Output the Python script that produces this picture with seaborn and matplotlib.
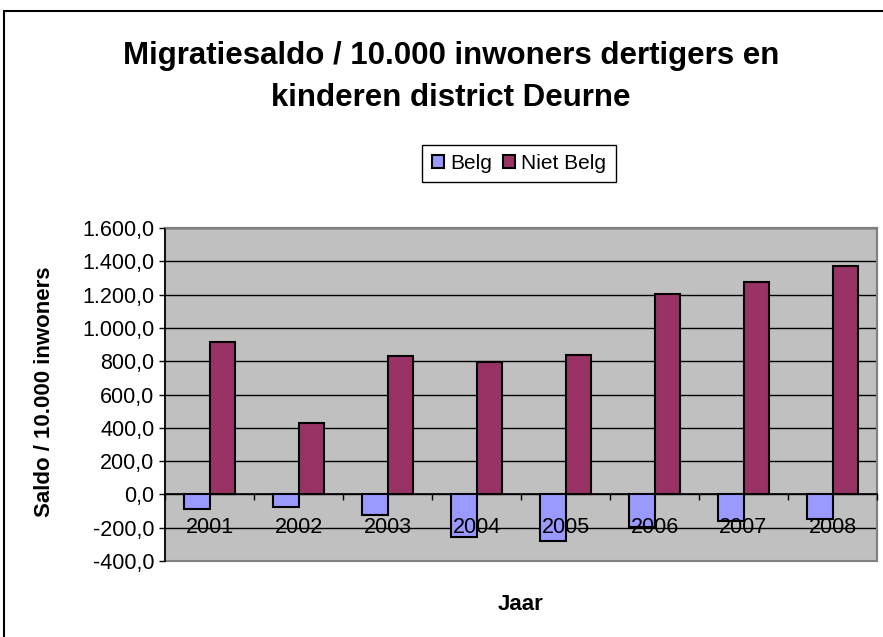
import pandas as pd
import seaborn as sns
import matplotlib.pyplot as plt
from matplotlib.ticker import FuncFormatter, FixedLocator
from matplotlib.patches import Rectangle

plt.rcParams['font.family'] = ['Liberation Sans', 'DejaVu Sans']

# values
years = ["2001", "2002", "2003", "2004", "2005", "2006", "2007", "2008"]
belg = [-85, -73, -121, -256, -279, -194, -158, -145]
niet_belg = [914, 428, 833, 797, 835, 1206, 1277, 1371]

df = pd.DataFrame({
    "jaar": years * 2,
    "saldo": belg + niet_belg,
    "groep": ["Belg"] * len(years) + ["Niet Belg"] * len(years),
})

fig = plt.figure(figsize=(8.83, 6.37), dpi=100)
ax = fig.add_axes([165 / 883, 76 / 637, 712 / 883, 333 / 637])

sns.barplot(data=df, x="jaar", y="saldo", hue="groep",
            palette={"Belg": "#9999FF", "Niet Belg": "#993366"},
            saturation=1, width=0.58, edgecolor="black", linewidth=1.5,
            ax=ax, zorder=2)

ax.set_facecolor("#C0C0C0")
ax.set_ylim(-400, 1600)
ax.set_xlim(-0.5, len(years) - 0.5)
ax.set_yticks(range(-400, 1601, 200))
ax.yaxis.set_major_formatter(FuncFormatter(
    lambda v, p: f"{v:,.1f}".replace(",", "X").replace(".", ",").replace("X", ".")))
# gridlines behind the bars, axis (labels) in front
for v in range(-200, 1601, 200):
    ax.axhline(v, color="black", linewidth=1, zorder=1)
ax.set_axisbelow(False)

# category axis sits on the zero line
ax.spines["bottom"].set_position(("data", 0))
ax.spines["bottom"].set_color("black")
ax.spines["bottom"].set_linewidth(1.2)
ax.spines["left"].set_color("black")
ax.spines["left"].set_linewidth(1.2)
for s in ["top", "right"]:
    ax.spines[s].set_color("gray")
    ax.spines[s].set_linewidth(1.5)
ax.patch.set_edgecolor("gray")
ax.patch.set_linewidth(1.5)

ax.xaxis.set_minor_locator(FixedLocator([i + 0.5 for i in range(-1, len(years))]))
ax.tick_params(axis="x", which="major", length=0, pad=16, labelsize=15.5)
ax.tick_params(axis="x", which="minor", length=4, width=1, direction="out")
ax.tick_params(axis="y", length=4, width=1, labelsize=15.5)

ax.set_xlabel("")
ax.set_ylabel("")
fig.text(45 / 883, 1 - 392 / 637, "Saldo / 10.000 inwoners", fontsize=16,
         fontweight="bold", rotation=90, ha="center", va="center")
fig.text(521 / 883, 1 - 605 / 637, "Jaar", fontsize=16, fontweight="bold",
         ha="center", va="center")

fig.text(451 / 883, 1 - 56 / 637, "Migratiesaldo / 10.000 inwoners dertigers en",
         fontsize=22.5, fontweight="bold", ha="center", va="center")
fig.text(451 / 883, 1 - 98 / 637, "kinderen district Deurne",
         fontsize=22.5, fontweight="bold", ha="center", va="center")

handles, labels = ax.get_legend_handles_labels()
ax.legend(handles, labels, loc="center", bbox_to_anchor=(519 / 883, 1 - 163.5 / 637),
          bbox_transform=fig.transFigure, ncol=2, fontsize=15, frameon=True,
          fancybox=False, edgecolor="black", framealpha=1, handlelength=0.6,
          handleheight=0.6, handletextpad=0.3, columnspacing=0.5, borderpad=0.45)

# outer chart border
fig.patches.append(Rectangle((4 / 883, -0.02), 1.05, 1 - 11 / 637 + 0.02,
                             transform=fig.transFigure, fill=False,
                             edgecolor="black", linewidth=1.5))

fig.savefig("out.png", dpi=100)
